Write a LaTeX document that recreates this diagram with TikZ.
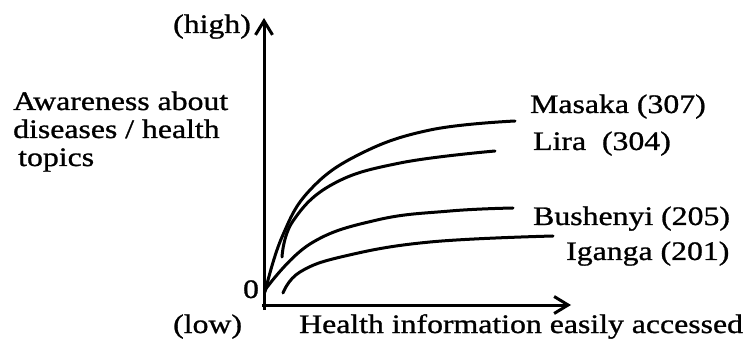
\documentclass[tikz,border=0pt]{standalone}
\usepackage{fontspec}
\setmainfont{Liberation Serif}[FakeStretch=1.19,FakeBold=1]
\usetikzlibrary{arrows.meta}
\begin{document}
\begin{tikzpicture}[x=1pt,y=-1pt,
  lbl/.style={inner sep=0pt,anchor=base west,font=\fontsize{26.7}{29}\selectfont},
  axis/.style={line width=3pt,-{Straight Barb[length=14pt,width=17pt]}},
  curve/.style={line width=3pt,line cap=round,smooth,tension=0.7}]
\useasboundingbox (0,0) rectangle (750,339);

% axes
\coordinate (ybot) at (264,310);
\coordinate (ytop) at (264,18);
\coordinate (xleft) at (262,305);
\coordinate (xright) at (571,305);
\draw[axis] (ybot) -- (ytop);
\draw[axis] (xleft) -- (xright);

% axis labels
\node[lbl] (high) at (173,33) {(high)};
\node[lbl] (aw1) at (13,110) {Awareness about};
\node[lbl] (aw2) at (13,138) {diseases / health};
\node[lbl] (aw3) at (18,166) {topics};
\node[lbl,anchor=base] (zero) at (251,298) {0};
\node[lbl] (low) at (173,333) {(low)};
\node[lbl] (xlab) at (299,333) {Health information easily accessed};

% district curves
\draw[curve] plot coordinates {(265,292) (282,237) (310,190) (360,154) (430,130) (515,121)};
\draw[curve] plot coordinates {(282,257) (293,221) (333,184) (400,163) (495,151)};
\draw[curve] plot coordinates {(265,290) (310,244) (377,220) (450,211) (513,208)};
\draw[curve] plot coordinates {(283,293) (300,272) (345,256) (430,242) (553,236)};

% district labels
\node[lbl] (masaka) at (530,113) {Masaka (307)};
\node[lbl] (lira) at (533,150) {Lira\ \ (304)};
\node[lbl] (bushenyi) at (533,225) {Bushenyi (205)};
\node[lbl] (iganga) at (566,260) {Iganga (201)};
\end{tikzpicture}
\end{document}
